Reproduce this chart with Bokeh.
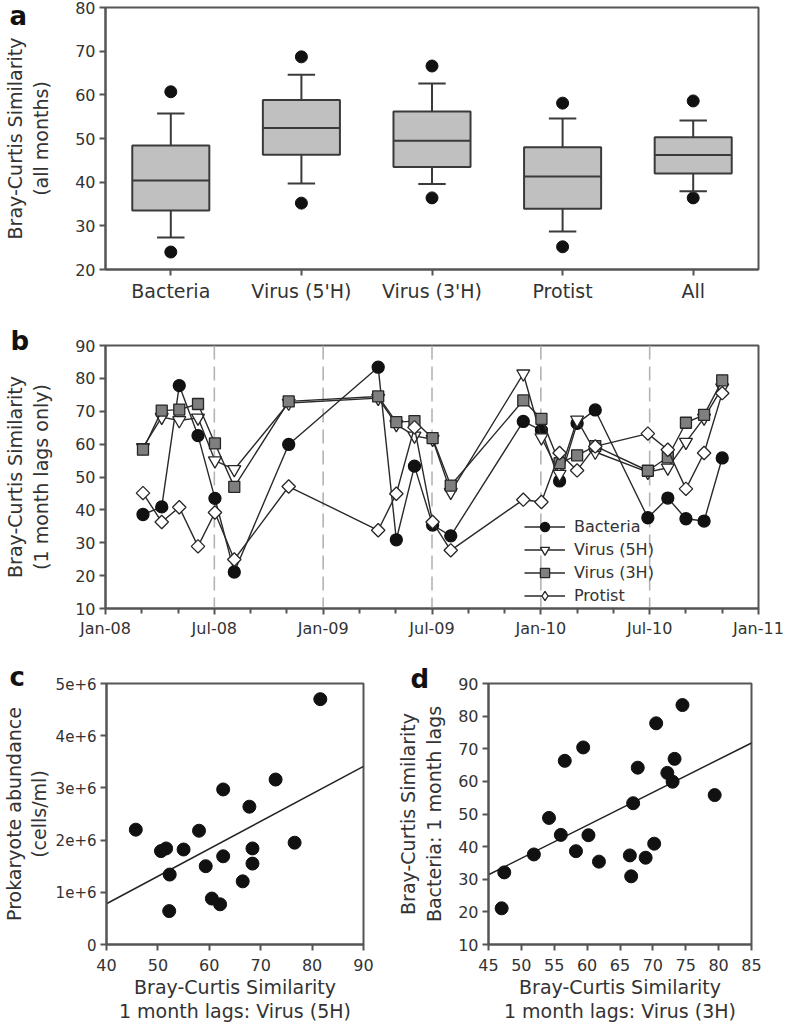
import numpy as np
from bokeh.plotting import figure
from bokeh.layouts import column, row
from bokeh.models import (Range1d, FixedTicker, Span, Legend, LegendItem,
                          ColumnDataSource)
from bokeh.embed import file_html
from bokeh.resources import INLINE

FONT = "DejaVu Sans"
INK = "#333333"
FRAME = "#555555"
EDGE = "#262626"

# ---------------- panel a : box plots ----------------
box_categories = ["Bacteria", "Virus (5'H)", "Virus (3'H)", "Protist", "All"]
box_whisker_low = [27.3, 39.7, 39.6, 28.7, 37.9]
box_q1 = [33.5, 46.3, 43.5, 33.9, 42.0]
box_median = [40.4, 52.4, 49.5, 41.3, 46.2]
box_q3 = [48.4, 58.8, 56.2, 48.0, 50.3]
box_whisker_high = [55.7, 64.6, 62.6, 54.6, 54.1]
box_outlier_low = [24.0, 35.2, 36.4, 25.2, 36.4]
box_outlier_high = [60.7, 68.7, 66.6, 58.1, 58.6]
a_yticks = [20, 30, 40, 50, 60, 70, 80]

# ---------------- panel b : time series ----------------
sample_dates = ["2008-03-03", "2008-04-04", "2008-05-03", "2008-06-04", "2008-07-02",
                "2008-08-04", "2008-11-04", "2009-04-02", "2009-05-02", "2009-06-02",
                "2009-07-02", "2009-08-02", "2009-12-02", "2010-01-02", "2010-02-02",
                "2010-03-01", "2010-04-01", "2010-06-28", "2010-08-01", "2010-09-01",
                "2010-10-01", "2010-11-01"]
bacteria = [38.6, 40.9, 77.8, 62.6, 43.5, 21.1, 59.9, 83.4, 30.9, 53.3, 35.4,
            32.1, 66.9, 64.2, 48.8, 66.3, 70.4, 37.6, 43.6, 37.3, 36.6, 55.8]
virus_5h = [59.0, 68.2, 67.2, 68.0, 55.0, 52.3, 72.5, 74.0, 66.0, 62.5, 61.5,
            45.4, 81.4, 62.0, 50.9, 67.4, 57.6, 51.5, 52.8, 60.6, 68.0, 77.2]
virus_3h = [58.3, 70.2, 70.5, 72.2, 60.2, 47.0, 73.0, 74.5, 66.7, 67.0, 61.8,
            47.4, 73.3, 67.7, 54.2, 56.6, 59.4, 51.9, 56.0, 66.5, 68.9, 79.4]
protist = [45.1, 36.3, 40.8, 28.9, 39.2, 24.9, 47.1, 33.8, 44.9, 65.1, 36.3,
           27.7, 43.1, 42.4, 57.3, 52.0, 59.3, 63.2, 58.3, 46.4, 57.3, 75.5]
b_tick_labels = ["Jan-08", "Jul-08", "Jan-09", "Jul-09", "Jan-10", "Jul-10", "Jan-11"]
b_yticks = [10, 20, 30, 40, 50, 60, 70, 80, 90]

# ---------------- panel c ----------------
c_virus5h = [45.7, 50.6, 51.6, 52.3, 52.2, 55.0, 58.0, 59.3, 60.5, 62.1,
             62.7, 62.7, 66.5, 67.8, 68.4, 68.4, 72.9, 76.6, 81.6]
c_abundance = [2.20e6, 1.79e6, 1.84e6, 1.34e6, 0.64e6, 1.82e6, 2.18e6, 1.50e6, 0.88e6, 0.77e6,
               2.97e6, 1.69e6, 1.21e6, 2.64e6, 1.84e6, 1.55e6, 3.16e6, 1.95e6, 4.70e6]
c_xticks = [40, 50, 60, 70, 80, 90]
c_yticks = [0, 1000000, 2000000, 3000000, 4000000, 5000000]
c_ytick_labels = ["0", "1e+6", "2e+6", "3e+6", "4e+6", "5e+6"]

# ---------------- panel d ----------------
d_xticks = [45, 50, 55, 60, 65, 70, 75, 80, 85]
d_yticks = [10, 20, 30, 40, 50, 60, 70, 80, 90]


def month_index(s):
    return (int(s[:4]) - 2008) * 12 + int(s[5:7]) - 1 + (int(s[8:10]) - 1) / 30.0


MONTHS = {"Jan": 0, "Jul": 6}


def label_month(lbl):
    return (2000 + int(lbl[4:]) - 2008) * 12 + MONTHS[lbl[:3]]


def style_fig(p, tick_size="16px"):
    p.outline_line_color = FRAME
    p.outline_line_width = 2
    p.grid.visible = False
    p.background_fill_color = "white"
    p.border_fill_color = "white"
    for ax in list(p.xaxis) + list(p.yaxis):
        ax.axis_line_color = FRAME
        ax.axis_line_width = 2
        ax.major_tick_line_color = FRAME
        ax.major_tick_line_width = 2
        ax.major_tick_out = 6
        ax.major_tick_in = 0
        ax.minor_tick_line_color = None
        ax.major_label_text_font = FONT
        ax.major_label_text_font_size = tick_size
        ax.major_label_text_color = INK
        ax.major_label_standoff = 4
        ax.axis_label_text_font = FONT
        ax.axis_label_text_font_size = "19px"
        ax.axis_label_text_font_style = "normal"
        ax.axis_label_text_color = INK
        ax.axis_label_text_line_height = 1.2


def panel_letter(p, letter, offset, standoff, valign):
    t = p.title
    t.text = letter
    t.align = "left"
    t.offset = offset
    t.standoff = standoff
    t.vertical_align = valign
    t.text_font = FONT
    t.text_font_size = "26px"
    t.text_font_style = "bold"
    t.text_color = "#111111"


# ======================= panel a =======================
pa = figure(width=785, height=312, x_range=Range1d(0.5, 5.5), y_range=Range1d(20, 80),
            output_backend="svg", toolbar_location=None,
            min_border_left=97, min_border_right=27, min_border_top=7, min_border_bottom=43)
style_fig(pa)
pos = np.arange(1, len(box_categories) + 1, dtype=float)
box_w = 0.59
cap_w = 0.21
src_a = ColumnDataSource(dict(
    x=pos, wl=box_whisker_low, q1=box_q1, med=box_median, q3=box_q3, wh=box_whisker_high,
    ol=box_outlier_low, oh=box_outlier_high,
    bx0=pos - box_w / 2, bx1=pos + box_w / 2, cx0=pos - cap_w / 2, cx1=pos + cap_w / 2))
pa.segment(x0="x", y0="q3", x1="x", y1="wh", source=src_a, line_color="#3a3a3a", line_width=2)
pa.segment(x0="x", y0="q1", x1="x", y1="wl", source=src_a, line_color="#3a3a3a", line_width=2)
pa.vbar(x="x", width=box_w, bottom="q1", top="q3", source=src_a,
        fill_color="#c0c0c0", line_color="#3a3a3a", line_width=2)
pa.segment(x0="bx0", y0="med", x1="bx1", y1="med", source=src_a, line_color="#3a3a3a", line_width=2)
pa.scatter(x="x", y="ol", source=src_a, size=12, marker="circle", fill_color="#111111", line_color="#111111")
pa.scatter(x="x", y="oh", source=src_a, size=12, marker="circle", fill_color="#111111", line_color="#111111")
pa.segment(x0="cx0", y0="wh", x1="cx1", y1="wh", source=src_a, line_color="#3a3a3a", line_width=2)
pa.segment(x0="cx0", y0="wl", x1="cx1", y1="wl", source=src_a, line_color="#3a3a3a", line_width=2)
pa.xaxis.ticker = FixedTicker(ticks=list(pos))
pa.xaxis.major_label_overrides = {int(k): c for k, c in zip(pos, box_categories)}
pa.xaxis.major_label_text_font_size = "19px"
pa.yaxis.ticker = FixedTicker(ticks=a_yticks)
pa.yaxis.axis_label = "Bray-Curtis Similarity\n(all months)"
pa.yaxis.axis_label_standoff = 20
panel_letter(pa, "a", -96, -47, "bottom")

# ======================= panel b =======================
pb = figure(width=785, height=328, x_range=Range1d(0, 36), y_range=Range1d(10, 90),
            output_backend="svg", toolbar_location=None,
            min_border_left=97, min_border_right=27, min_border_top=33, min_border_bottom=32)
style_fig(pb)
bx = [month_index(s) for s in sample_dates]
major_months = [label_month(l) for l in b_tick_labels]
minor_months = [m for m in range(major_months[0], major_months[-1] + 1, 2) if m not in major_months]
for m in major_months[1:-1]:
    pb.add_layout(Span(location=m, dimension="height", line_color="#b4b4b4",
                       line_width=1.6, line_dash="14 7", level="underlay"))

series = [
    ("Bacteria", bacteria, dict(marker="circle", size=12, fill_color="#111111", line_color="#111111"), None),
    ("Virus (5H)", virus_5h, dict(marker="inverted_triangle", size=13, fill_color="white", line_color=EDGE), None),
    ("Virus (3H)", virus_3h, dict(marker="square", size=11, fill_color="#7f7f7f", line_color=EDGE), None),
    ("Protist", protist, dict(marker="square", angle=np.pi / 4, size=9.5, fill_color="white", line_color=EDGE),
     dict(marker="diamond", size=14, fill_color="white", line_color=EDGE)),
]
items = []
for name, vals, mk, legend_mk in series:
    ln = pb.line(bx, vals, line_color="#2a2a2a", line_width=1.4)
    sc = pb.scatter(bx, vals, line_width=1.3, **mk)
    if legend_mk is not None:
        # legend-only diamond (positions are NaN so nothing is drawn in the plot)
        sc_leg = pb.scatter([float("nan")], [float("nan")], line_width=1.3, **legend_mk)
        items.append(LegendItem(label=name, renderers=[ln, sc_leg]))
    else:
        items.append(LegendItem(label=name, renderers=[ln, sc]))
leg = Legend(items=items, location=(419, 1), orientation="vertical",
             glyph_width=41, glyph_height=23, label_height=23, label_standoff=9,
             spacing=0, padding=0, margin=0, border_line_alpha=0, background_fill_alpha=0,
             label_text_font=FONT, label_text_font_size="16px", label_text_color=INK)
pb.add_layout(leg)
pb.xaxis.ticker = FixedTicker(ticks=major_months, minor_ticks=minor_months)
pb.xaxis.major_label_overrides = {m: l for m, l in zip(major_months, b_tick_labels)}
pb.xaxis.minor_tick_line_color = FRAME
pb.xaxis.minor_tick_line_width = 2
pb.xaxis.minor_tick_out = 5
pb.xaxis.minor_tick_in = 0
pb.yaxis.ticker = FixedTicker(ticks=b_yticks)
pb.yaxis.axis_label = "Bray-Curtis Similarity\n(1 month lags only)"
pb.yaxis.axis_label_standoff = 20
panel_letter(pb, "b", -95, -21, "bottom")

# ======================= panel c =======================
pc = figure(width=390, height=384, x_range=Range1d(c_xticks[0], c_xticks[-1]),
            y_range=Range1d(c_yticks[0], c_yticks[-1]),
            output_backend="svg", toolbar_location=None,
            min_border_left=99, min_border_right=27, min_border_top=43, min_border_bottom=77)
style_fig(pc)
pc.yaxis.major_label_text_font_size = "15px"
cs, ci = np.polyfit(c_virus5h, c_abundance, 1)
cxl = np.array([c_xticks[0], c_xticks[-1]], dtype=float)
pc.line(cxl, cs * cxl + ci, line_color="#222222", line_width=1.5)
pc.scatter(c_virus5h, c_abundance, size=13, marker="circle", fill_color="#111111", line_color="#111111")
pc.xaxis.ticker = FixedTicker(ticks=c_xticks)
pc.yaxis.ticker = FixedTicker(ticks=c_yticks)
pc.yaxis.major_label_overrides = {t: l for t, l in zip(c_yticks, c_ytick_labels)}
pc.yaxis.axis_label = "Prokaryote abundance\n(cells/ml)"
pc.yaxis.axis_label_standoff = 3
pc.yaxis.axis_label_text_line_height = 1.1
pc.xaxis.axis_label = "Bray-Curtis Similarity\n1 month lags: Virus (5H)"
pc.xaxis.major_label_standoff = 8
pc.xaxis.axis_label_standoff = 2
pc.xaxis.axis_label_text_line_height = 1.1
panel_letter(pc, "c", -97, -16, "bottom")

# ======================= panel d =======================
pd_ = figure(width=395, height=384, x_range=Range1d(d_xticks[0], d_xticks[-1]),
             y_range=Range1d(d_yticks[0], d_yticks[-1]),
             output_backend="svg", toolbar_location=None,
             min_border_left=98, min_border_right=34, min_border_top=43, min_border_bottom=77)
style_fig(pd_)
ds, di = np.polyfit(virus_3h, bacteria, 1)
dxl = np.array([d_xticks[0], d_xticks[-1]], dtype=float)
pd_.line(dxl, ds * dxl + di, line_color="#222222", line_width=1.5)
pd_.scatter(virus_3h, bacteria, size=13, marker="circle", fill_color="#111111", line_color="#111111")
pd_.xaxis.ticker = FixedTicker(ticks=d_xticks)
pd_.yaxis.ticker = FixedTicker(ticks=d_yticks)
pd_.yaxis.axis_label = "Bray-Curtis Similarity\nBacteria: 1 month lags"
pd_.yaxis.axis_label_standoff = 10
pd_.xaxis.axis_label = "Bray-Curtis Similarity\n1 month lags: Virus (3H)"
pd_.xaxis.major_label_standoff = 8
pd_.xaxis.axis_label_standoff = 2
pd_.xaxis.axis_label_text_line_height = 1.1
panel_letter(pd_, "d", -78, -20, "bottom")

layout = column(pa, pb, row(pc, pd_))
open("out.html", "w").write(file_html(layout, INLINE, title="Bray-Curtis similarity"))
